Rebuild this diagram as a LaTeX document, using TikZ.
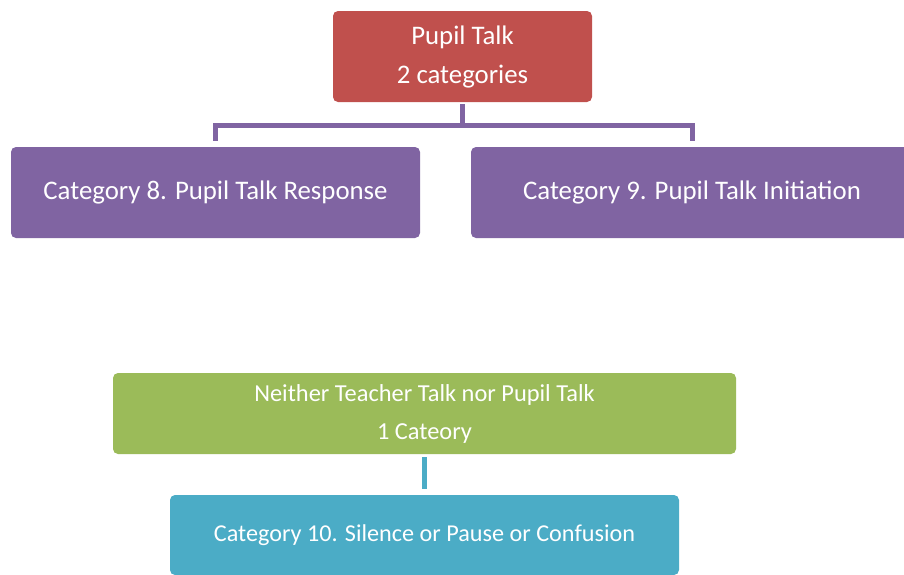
\documentclass[tikz,border=0pt]{standalone}
\usepackage{fontspec}
\setmainfont{Carlito}
\definecolor{redbox}{HTML}{C0504D}
\definecolor{purplebox}{HTML}{8064A2}
\definecolor{greenbox}{HTML}{9BBB59}
\definecolor{tealbox}{HTML}{4BACC6}
\begin{document}
\begin{tikzpicture}[x=1pt,y=-1pt,
  box/.style={rectangle, rounded corners=5pt, draw=none, text=white, align=center, inner sep=0pt},
  link/.style={line width=5pt}]
\useasboundingbox (0,0) rectangle (904,574);
\clip (0,0) rectangle (904,574);
% top group: pupil talk
\node[box, fill=redbox, minimum width=259pt, minimum height=91pt,
      font=\fontsize{26.8}{40}\selectfont] (pupil) at (462.5,56.5) {Pupil Talk\\[-1pt]2 categories};
\node[box, fill=purplebox, minimum width=409pt, minimum height=91pt,
      font=\fontsize{26.8}{30}\selectfont] (cat8) at (215.5,192.5) {Category 8. Pupil Talk Response};
\node[box, fill=purplebox, minimum width=442pt, minimum height=91pt,
      font=\fontsize{26.8}{30}\selectfont] (cat9) at (692,192.5) {Category 9. Pupil Talk Initiation};
\coordinate (mid) at (463,125);
\draw[link, purplebox] ([yshift=-2pt]pupil.south) -- (pupil.south |- mid);
\draw[link, purplebox, line join=miter]
  ([yshift=6pt]cat8.north) -- (cat8.north |- mid) -- (cat9.north |- mid) -- ([yshift=6pt]cat9.north);
% bottom group: neither teacher talk nor pupil talk
\node[box, fill=greenbox, minimum width=623pt, minimum height=81pt,
      font=\fontsize{24.4}{38}\selectfont] (neither) at (424.5,413.5) {\raisebox{-2pt}{Neither Teacher Talk nor Pupil Talk}\\\raisebox{-2pt}{1 Cateory}};
\node[box, fill=tealbox, minimum width=509pt, minimum height=80pt,
      font=\fontsize{24.2}{28}\selectfont] (cat10) at (424.5,535) {\raisebox{-2pt}{Category 10. Silence or Pause or Confusion}};
\draw[link, tealbox] ([yshift=-3pt]neither.south) -- ([yshift=6pt]cat10.north);
\end{tikzpicture}
\end{document}
